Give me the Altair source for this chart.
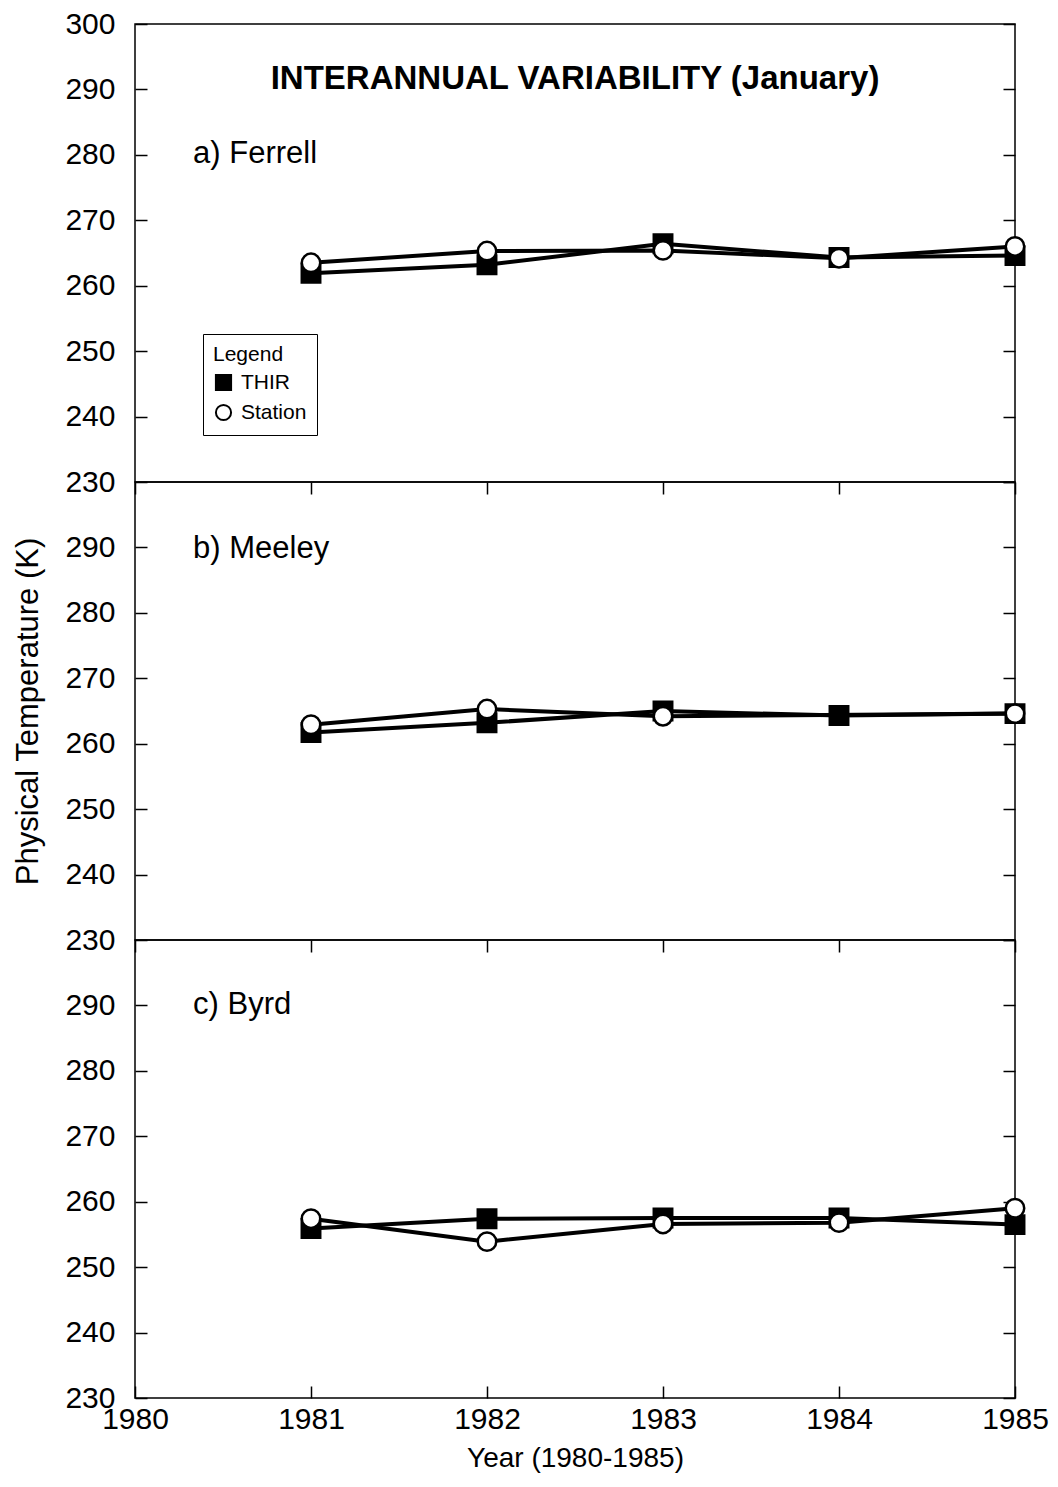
import altair as alt
import pandas as pd

# ---- data ----
years = [1981, 1982, 1983, 1984, 1985]

ferrell_thir = [261.9, 263.2, 266.4, 264.3, 264.6]
ferrell_station = [263.5, 265.3, 265.4, 264.2, 266.0]

meeley_thir = [261.7, 263.2, 265.0, 264.3, 264.6]
meeley_station = [262.9, 265.3, 264.2, None, 264.6]

byrd_thir = [255.9, 257.4, 257.5, 257.5, 256.5]
byrd_station = [257.4, 253.9, 256.6, 256.8, 259.0]

panel_names = ["a) Ferrell", "b) Meeley", "c) Byrd"]
panel_label_pos = [(1980.33, 280.2), (1980.33, 289.8), (1980.33, 290.1)]
main_title = "INTERANNUAL VARIABILITY (January)"
main_title_pos = (1982.5, 291.6)

series_names = ["THIR", "Station"]
x_ticks = [1980, 1981, 1982, 1983, 1984, 1985]

FONT = "Liberation Sans"
W, H = 880, 458

X_SCALE = alt.Scale(domain=[1980, 1985], nice=False, zero=False)
Y_SCALE = alt.Scale(domain=[230, 300], nice=False, zero=False)


def build_df(thir, station):
    rows = []
    for yr, v in zip(years, thir):
        if v is not None:
            rows.append({"year": yr, "temp": v, "series": "THIR"})
    for yr, v in zip(years, station):
        if v is not None:
            rows.append({"year": yr, "temp": v, "series": "Station"})
    return pd.DataFrame(rows)


def make_panel(idx, thir, station):
    df = build_df(thir, station)
    is_top = idx == 0
    is_bottom = idx == 2
    y_vals = list(range(230, 301, 10)) if is_top else list(range(230, 291, 10))

    if is_bottom:
        x_axis_main = alt.Axis(values=x_ticks, format="d", orient="bottom",
                               offset=-12, tickSize=12, tickWidth=1.5, domain=False,
                               grid=False, labelFlush=False, labelFontSize=30,
                               labelPadding=6, title="Year (1980-1985)",
                               titleFontSize=28, titleFontWeight="normal",
                               titlePadding=10)
    else:
        x_axis_main = None

    y_axis_main = alt.Axis(values=y_vals, orient="left", offset=-12, tickSize=12,
                           tickWidth=1.5, domain=False, grid=False,
                           labelFontSize=30, labelPadding=20,
                           title=("Physical Temperature (K)" if idx == 1 else None),
                           titleFontSize=31, titleFontWeight="normal",
                           titlePadding=20)

    lines = alt.Chart(df).mark_line(color="black", strokeWidth=4).encode(
        x=alt.X("year:Q", scale=X_SCALE, axis=x_axis_main),
        y=alt.Y("temp:Q", scale=Y_SCALE, axis=y_axis_main),
        detail="series:N",
    )

    x_axis_top = (alt.Axis(values=x_ticks, orient="top", offset=-12, tickSize=12,
                           tickWidth=1.5, domain=False, grid=False, labels=False,
                           title=None)
                  if not is_top else None)
    y_axis_right = alt.Axis(values=list(range(230, 301, 10)), orient="right",
                            offset=-12, tickSize=12, tickWidth=1.5, domain=False,
                            grid=False, labels=False, title=None)

    if is_top:
        leg = alt.Legend(orient="none", legendX=68, legendY=310, title="Legend",
                         strokeColor="black", padding=10, titleFontSize=21,
                         labelFontSize=21, titleFontWeight="normal",
                         titleFont=FONT, labelFont=FONT, symbolSize=230,
                         symbolStrokeWidth=2, symbolStrokeColor="black",
                         rowPadding=5, titlePadding=7, labelOffset=7,
                         fillColor="white")
    else:
        leg = None

    points = alt.Chart(df).mark_point(filled=True, size=340,
                                      strokeWidth=2.5, opacity=1).encode(
        x=alt.X("year:Q", scale=X_SCALE, axis=x_axis_top),
        y=alt.Y("temp:Q", scale=Y_SCALE, axis=y_axis_right),
        shape=alt.Shape("series:N", title="Legend",
                        scale=alt.Scale(domain=series_names, range=["square", "circle"]),
                        legend=leg),
        fill=alt.Fill("series:N", title="Legend",
                      scale=alt.Scale(domain=series_names, range=["black", "white"]),
                      legend=leg),
        stroke=alt.Stroke("series:N", title="Legend",
                          scale=alt.Scale(domain=series_names, range=["black", "black"]),
                          legend=leg),
        order=alt.Order("order_key:Q"),
    ).transform_calculate(order_key="datum.series == 'THIR' ? 0 : 1")

    lx, ly = panel_label_pos[idx]
    label_df = pd.DataFrame({"year": [lx], "temp": [ly], "text": [panel_names[idx]]})
    label = alt.Chart(label_df).mark_text(align="left", baseline="middle",
                                          fontSize=31, font=FONT, color="black").encode(
        x=alt.X("year:Q", scale=X_SCALE, axis=None),
        y=alt.Y("temp:Q", scale=Y_SCALE, axis=None),
        text="text:N",
    )

    layers = [lines, points, label]
    if is_top:
        tdf = pd.DataFrame({"year": [main_title_pos[0]], "temp": [main_title_pos[1]],
                            "text": [main_title]})
        title = alt.Chart(tdf).mark_text(align="center", baseline="middle",
                                         fontSize=33, fontWeight="bold",
                                         font=FONT, color="black").encode(
            x=alt.X("year:Q", scale=X_SCALE, axis=None),
            y=alt.Y("temp:Q", scale=Y_SCALE, axis=None),
            text="text:N",
        )
        layers.append(title)

    return alt.layer(*layers).resolve_axis(x="independent", y="independent").properties(
        width=W, height=H)


panels = [
    make_panel(0, ferrell_thir, ferrell_station),
    make_panel(1, meeley_thir, meeley_station),
    make_panel(2, byrd_thir, byrd_station),
]

chart = alt.vconcat(*panels, spacing=0, bounds="flush").resolve_scale(
    shape="independent", fill="independent", stroke="independent"
).properties(
    padding={"left": 4, "top": 0, "right": 0, "bottom": 0},
    background="white",
).configure_view(
    stroke="black", strokeWidth=1.5
).configure_axis(
    labelFont=FONT, titleFont=FONT, labelColor="black", titleColor="black",
    tickColor="black"
)

chart.save("out.html", embed_options={"renderer": "svg", "actions": False})
